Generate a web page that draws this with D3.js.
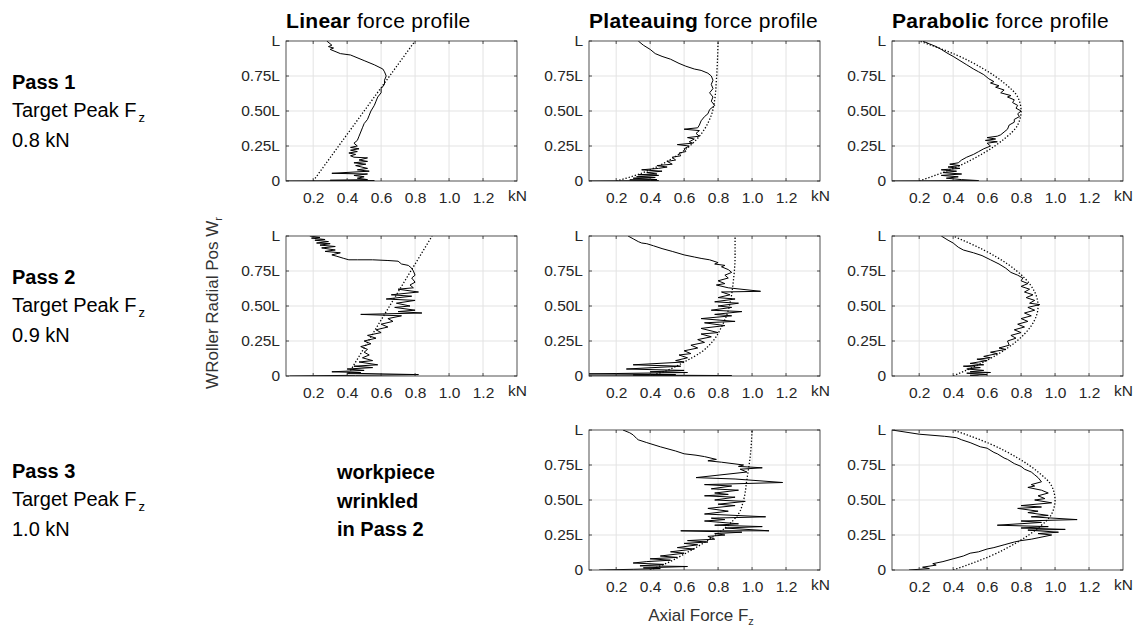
<!DOCTYPE html>
<html>
<head>
<meta charset="utf-8">
<script src="https://cdnjs.cloudflare.com/ajax/libs/d3/7.8.5/d3.min.js"></script>
<style>
  body { margin: 0; background: #fff; }
  svg { display: block; }
  text { font-family: "Liberation Sans", Arial, Helvetica, sans-serif; }
</style>
</head>
<body>
<svg width="1134" height="626"></svg>
<script>
// axis ticks
var xTicks = [0.2, 0.4, 0.6, 0.8, 1.0, 1.2];
var xUnit = [1.4, "kN"];
var yTicks = [0, 0.25, 0.5, 0.75, 1];
var yTickLabels = ["0", "0.25L", "0.50L", "0.75L", "L"];

var colTitles = [["Linear", " force profile"], ["Plateauing", " force profile"], ["Parabolic", " force profile"]];
var passNames = ["Pass 1", "Pass 2", "Pass 3"];
var passTargets = ["0.8 kN", "0.9 kN", "1.0 kN"];
var wrinkleNote = ["workpiece", "wrinkled", "in Pass 2"];

// target profiles [force kN, radial position / L]
var linTarget1 = [[0.2, 0], [0.8, 1]];
var platTarget1 = [[0.2, 0], [0.3, 0.035], [0.4, 0.08], [0.5, 0.14], [0.58, 0.2], [0.66, 0.28], [0.72, 0.37], [0.76, 0.47], [0.78, 0.58], [0.79, 0.72], [0.8, 1]];
var paraTarget1 = [[0.2, 0], [0.42, 0.1], [0.58, 0.2], [0.7, 0.3], [0.78, 0.4], [0.8, 0.5], [0.78, 0.6], [0.7, 0.7], [0.58, 0.8], [0.42, 0.9], [0.2, 1]];
var linTarget2 = [[0.4, 0], [0.9, 1]];
var platTarget2 = [[0.4, 0], [0.5, 0.04], [0.6, 0.1], [0.7, 0.17], [0.77, 0.25], [0.82, 0.35], [0.855, 0.45], [0.875, 0.55], [0.89, 0.68], [0.9, 0.85], [0.9, 1]];
var paraTarget2 = [[0.4, 0], [0.58, 0.1], [0.72, 0.2], [0.82, 0.3], [0.88, 0.4], [0.9, 0.5], [0.88, 0.6], [0.82, 0.7], [0.72, 0.8], [0.58, 0.9], [0.4, 1]];
var platTarget3 = [[0.4, 0], [0.5, 0.05], [0.61, 0.12], [0.75, 0.22], [0.85, 0.31], [0.92, 0.4], [0.95, 0.5], [0.97, 0.65], [0.99, 0.82], [1.0, 1]];
var paraTarget3 = [[0.4, 0], [0.62, 0.1], [0.78, 0.2], [0.9, 0.3], [0.98, 0.4], [1.0, 0.5], [0.98, 0.6], [0.9, 0.7], [0.78, 0.8], [0.62, 0.9], [0.4, 1]];

// measured forces [force kN, radial position / L]
var linMeas1 = [[0.28,1.0],[0.31,0.97],[0.29,0.96],[0.32,0.95],[0.3,0.94],[0.34,0.92],[0.36,0.91],[0.42,0.9],[0.44,0.89],[0.5,0.86],[0.56,0.83],[0.61,0.8],[0.62,0.78],[0.63,0.75],[0.62,0.72],[0.62,0.69],[0.6,0.66],[0.6,0.63],[0.58,0.6],[0.57,0.57],[0.56,0.54],[0.54,0.5],[0.53,0.47],[0.52,0.44],[0.5,0.41],[0.49,0.38],[0.48,0.35],[0.47,0.32],[0.46,0.29],[0.44,0.27],[0.46,0.25],[0.42,0.24],[0.47,0.23],[0.42,0.22],[0.46,0.21],[0.41,0.2],[0.45,0.19],[0.42,0.18],[0.44,0.17],[0.52,0.165],[0.47,0.15],[0.52,0.14],[0.44,0.13],[0.51,0.12],[0.45,0.11],[0.52,0.09],[0.46,0.08],[0.53,0.07],[0.31,0.055],[0.52,0.05],[0.44,0.04],[0.5,0.03],[0.46,0.02],[0.52,0.01],[0.3,0.005],[0.56,0.003],[0.04,0.0]];
var platMeas1 = [[0.33,1.0],[0.36,0.97],[0.4,0.94],[0.43,0.91],[0.47,0.89],[0.52,0.87],[0.57,0.84],[0.61,0.82],[0.66,0.8],[0.7,0.79],[0.74,0.77],[0.76,0.75],[0.77,0.72],[0.76,0.69],[0.77,0.66],[0.75,0.63],[0.77,0.6],[0.76,0.57],[0.78,0.54],[0.75,0.51],[0.74,0.48],[0.72,0.46],[0.7,0.43],[0.69,0.4],[0.68,0.38],[0.6,0.37],[0.69,0.36],[0.67,0.34],[0.69,0.32],[0.62,0.31],[0.66,0.3],[0.63,0.28],[0.65,0.27],[0.56,0.26],[0.63,0.25],[0.6,0.23],[0.61,0.21],[0.57,0.2],[0.58,0.18],[0.53,0.17],[0.55,0.15],[0.5,0.14],[0.53,0.12],[0.44,0.11],[0.5,0.1],[0.45,0.09],[0.35,0.08],[0.47,0.07],[0.38,0.06],[0.44,0.05],[0.33,0.045],[0.45,0.04],[0.32,0.03],[0.43,0.025],[0.3,0.02],[0.44,0.01],[0.28,0.008],[0.45,0.003],[0.04,0.0]];
var paraMeas1 = [[0.22,1.0],[0.26,0.98],[0.3,0.96],[0.33,0.94],[0.37,0.91],[0.4,0.89],[0.44,0.86],[0.48,0.83],[0.52,0.8],[0.55,0.78],[0.58,0.76],[0.61,0.73],[0.64,0.71],[0.62,0.7],[0.67,0.68],[0.65,0.67],[0.7,0.65],[0.68,0.63],[0.74,0.61],[0.72,0.6],[0.76,0.58],[0.75,0.56],[0.78,0.54],[0.77,0.52],[0.8,0.5],[0.78,0.48],[0.79,0.46],[0.76,0.44],[0.76,0.42],[0.73,0.4],[0.72,0.37],[0.7,0.35],[0.68,0.33],[0.66,0.32],[0.6,0.31],[0.65,0.3],[0.59,0.29],[0.66,0.28],[0.6,0.27],[0.62,0.25],[0.58,0.23],[0.55,0.21],[0.52,0.19],[0.48,0.17],[0.45,0.15],[0.43,0.13],[0.38,0.12],[0.44,0.11],[0.37,0.1],[0.44,0.09],[0.33,0.08],[0.42,0.07],[0.34,0.06],[0.45,0.05],[0.33,0.04],[0.43,0.03],[0.36,0.02],[0.45,0.01],[0.55,0.003],[0.04,0.0]];
var linMeas2 = [[0.18,1.0],[0.24,0.99],[0.19,0.985],[0.27,0.975],[0.21,0.97],[0.29,0.96],[0.22,0.95],[0.3,0.945],[0.24,0.935],[0.33,0.925],[0.25,0.915],[0.33,0.9],[0.27,0.89],[0.36,0.88],[0.31,0.865],[0.34,0.855],[0.38,0.84],[0.41,0.83],[0.46,0.83],[0.55,0.83],[0.64,0.825],[0.7,0.82],[0.72,0.8],[0.76,0.79],[0.78,0.77],[0.79,0.75],[0.8,0.72],[0.78,0.7],[0.8,0.67],[0.77,0.65],[0.79,0.63],[0.7,0.62],[0.82,0.6],[0.66,0.58],[0.78,0.57],[0.63,0.55],[0.8,0.54],[0.69,0.52],[0.77,0.5],[0.68,0.49],[0.8,0.47],[0.7,0.46],[0.84,0.45],[0.48,0.44],[0.72,0.43],[0.64,0.41],[0.67,0.39],[0.6,0.37],[0.64,0.35],[0.57,0.33],[0.6,0.31],[0.52,0.29],[0.57,0.27],[0.5,0.25],[0.54,0.23],[0.48,0.21],[0.52,0.19],[0.5,0.17],[0.53,0.15],[0.49,0.13],[0.55,0.11],[0.47,0.1],[0.58,0.08],[0.44,0.07],[0.55,0.06],[0.4,0.05],[0.5,0.04],[0.31,0.03],[0.48,0.025],[0.4,0.02],[0.82,0.01],[0.45,0.005],[0.06,0.0]];
var platMeas2 = [[0.27,1.0],[0.3,0.98],[0.33,0.96],[0.35,0.95],[0.38,0.945],[0.42,0.93],[0.47,0.91],[0.53,0.89],[0.6,0.865],[0.66,0.85],[0.7,0.84],[0.75,0.83],[0.8,0.81],[0.78,0.8],[0.84,0.79],[0.82,0.78],[0.86,0.76],[0.88,0.74],[0.84,0.72],[0.86,0.7],[0.8,0.68],[0.84,0.66],[0.79,0.65],[0.86,0.63],[1.05,0.605],[0.82,0.6],[0.87,0.58],[0.8,0.56],[0.9,0.55],[0.78,0.53],[0.92,0.52],[0.8,0.5],[0.88,0.49],[0.76,0.47],[0.94,0.46],[0.78,0.44],[0.88,0.43],[0.7,0.41],[0.9,0.39],[0.72,0.38],[0.84,0.36],[0.7,0.34],[0.8,0.31],[0.7,0.3],[0.76,0.28],[0.68,0.26],[0.72,0.24],[0.64,0.22],[0.68,0.2],[0.6,0.18],[0.64,0.16],[0.57,0.15],[0.62,0.13],[0.55,0.11],[0.6,0.1],[0.3,0.08],[0.58,0.07],[0.26,0.05],[0.6,0.04],[0.4,0.03],[0.62,0.025],[0.04,0.015],[0.55,0.01],[0.3,0.007],[0.88,0.003],[0.04,0.0]];
var paraMeas2 = [[0.33,1.0],[0.37,0.97],[0.4,0.95],[0.43,0.92],[0.46,0.9],[0.52,0.88],[0.57,0.86],[0.62,0.83],[0.67,0.8],[0.71,0.77],[0.74,0.74],[0.78,0.72],[0.81,0.7],[0.8,0.68],[0.84,0.66],[0.8,0.64],[0.85,0.62],[0.82,0.6],[0.87,0.58],[0.83,0.56],[0.88,0.54],[0.85,0.52],[0.91,0.51],[0.84,0.49],[0.88,0.47],[0.82,0.45],[0.86,0.43],[0.8,0.41],[0.84,0.39],[0.78,0.37],[0.82,0.35],[0.76,0.33],[0.8,0.31],[0.74,0.29],[0.77,0.27],[0.72,0.25],[0.73,0.22],[0.67,0.2],[0.71,0.19],[0.62,0.17],[0.66,0.16],[0.58,0.14],[0.62,0.13],[0.54,0.12],[0.6,0.11],[0.5,0.09],[0.58,0.08],[0.46,0.07],[0.56,0.06],[0.48,0.05],[0.58,0.04],[0.5,0.03],[0.62,0.025],[0.48,0.02],[0.6,0.01],[0.5,0.005],[0.55,0.0]];
var platMeas3 = [[0.24,1.0],[0.28,0.98],[0.3,0.965],[0.32,0.94],[0.33,0.93],[0.38,0.91],[0.46,0.88],[0.55,0.85],[0.6,0.83],[0.67,0.82],[0.72,0.81],[0.79,0.79],[0.74,0.78],[0.82,0.77],[0.95,0.75],[0.92,0.74],[1.06,0.73],[0.93,0.72],[0.97,0.7],[0.67,0.66],[0.9,0.65],[1.18,0.625],[0.72,0.61],[0.88,0.6],[0.76,0.58],[0.92,0.57],[0.78,0.55],[0.86,0.54],[0.72,0.53],[0.9,0.52],[0.78,0.5],[0.96,0.49],[0.8,0.47],[0.9,0.46],[0.74,0.44],[0.86,0.42],[0.72,0.4],[1.08,0.38],[0.76,0.37],[0.84,0.36],[0.72,0.35],[0.92,0.33],[0.78,0.32],[1.06,0.31],[0.84,0.3],[1.1,0.28],[0.58,0.28],[0.94,0.27],[0.78,0.26],[0.84,0.25],[0.74,0.24],[0.78,0.22],[0.62,0.21],[0.74,0.2],[0.6,0.19],[0.68,0.18],[0.56,0.16],[0.66,0.15],[0.52,0.13],[0.6,0.12],[0.46,0.1],[0.56,0.09],[0.4,0.08],[0.52,0.07],[0.38,0.06],[0.3,0.05],[0.48,0.04],[0.34,0.03],[0.62,0.025],[0.36,0.015],[0.46,0.01],[0.3,0.005],[0.1,0.0]];
var paraMeas3 = [[0.04,1.0],[0.2,0.97],[0.35,0.955],[0.42,0.945],[0.45,0.93],[0.5,0.91],[0.56,0.88],[0.6,0.87],[0.64,0.84],[0.66,0.83],[0.7,0.8],[0.72,0.79],[0.76,0.76],[0.8,0.74],[0.82,0.72],[0.86,0.7],[0.88,0.68],[0.9,0.66],[0.92,0.63],[0.86,0.61],[0.88,0.6],[0.84,0.59],[0.92,0.57],[0.96,0.55],[0.9,0.53],[0.94,0.51],[0.88,0.5],[0.98,0.48],[0.8,0.46],[0.92,0.45],[0.78,0.44],[0.9,0.42],[0.84,0.41],[0.96,0.39],[0.86,0.38],[1.13,0.36],[0.8,0.35],[0.92,0.34],[0.66,0.32],[0.96,0.31],[0.8,0.3],[1.06,0.29],[0.84,0.285],[1.02,0.27],[0.9,0.26],[0.98,0.25],[0.9,0.23],[0.86,0.22],[0.8,0.21],[0.76,0.2],[0.7,0.18],[0.64,0.16],[0.6,0.15],[0.55,0.13],[0.5,0.12],[0.46,0.1],[0.4,0.08],[0.34,0.06],[0.28,0.045],[0.3,0.035],[0.22,0.02],[0.26,0.01],[0.14,0.0]];

var panels = [
    { row: 0, col: 0, meas: linMeas1, target: linTarget1 },
    { row: 0, col: 1, meas: platMeas1, target: platTarget1 },
    { row: 0, col: 2, meas: paraMeas1, target: paraTarget1 },
    { row: 1, col: 0, meas: linMeas2, target: linTarget2 },
    { row: 1, col: 1, meas: platMeas2, target: platTarget2 },
    { row: 1, col: 2, meas: paraMeas2, target: paraTarget2 },
    { row: 2, col: 1, meas: platMeas3, target: platTarget3 },
    { row: 2, col: 2, meas: paraMeas3, target: paraTarget3 }
];

var svg = d3.select("svg");
var panelW = 231, panelH = 140;
var colX = [286, 589, 892];
var rowY = [41, 236, 430];
var axisGrey = "#262626";
var fontStack = "'Liberation Sans', Arial, Helvetica, sans-serif";

var x = d3.scaleLinear().domain([0.04, 1.4]).range([0, panelW]);
var y = d3.scaleLinear().domain([0, 1]).range([panelH, 0]);

var line = d3.line()
    .x(function(d) { return x(d[0]); })
    .y(function(d) { return y(d[1]); });

var smoothLine = d3.line()
    .x(function(d) { return x(d[0]); })
    .y(function(d) { return y(d[1]); })
    .curve(d3.curveMonotoneY);

svg.append("defs").append("clipPath")
    .attr("id", "plotClip")
    .append("rect")
    .attr("width", panelW)
    .attr("height", panelH);

// column titles
colTitles.forEach(function(t, i) {
    var tt = svg.append("text")
        .attr("x", colX[i])
        .attr("y", 28)
        .attr("font-size", 21)
        .style("letter-spacing", "0.3px")
        .attr("fill", "#000");
    tt.append("tspan").attr("font-weight", "bold").text(t[0]);
    tt.append("tspan").text(t[1]);
});

// pass labels at left
passNames.forEach(function(p, i) {
    var base = 89 + (rowY[i] - rowY[0]);
    svg.append("text")
        .attr("x", 12).attr("y", base)
        .attr("font-size", 20).attr("font-weight", "bold")
        .text(p);
    var tg = svg.append("text")
        .attr("x", 12).attr("y", base + 28)
        .attr("font-size", 20);
    tg.append("tspan").text("Target Peak F");
    tg.append("tspan").attr("dx", 2).attr("dy", 5).attr("font-size", 13).text("z");
    svg.append("text")
        .attr("x", 12).attr("y", base + 58)
        .attr("font-size", 20)
        .text(passTargets[i]);
});

svg.selectAll(".note")
    .data(wrinkleNote)
    .enter().append("text")
    .attr("class", "note")
    .attr("x", 337)
    .attr("y", function(d, i) { return 479 + i * 28.5; })
    .attr("font-size", 20)
    .attr("font-weight", "bold")
    .text(function(d) { return d; });

// panels
panels.forEach(function(p) {
    var g = svg.append("g")
        .attr("transform", "translate(" + colX[p.col] + "," + rowY[p.row] + ")");

    // grid
    g.selectAll(".vgrid").data(xTicks).enter().append("line")
        .attr("x1", function(d) { return x(d); }).attr("x2", function(d) { return x(d); })
        .attr("y1", 0).attr("y2", panelH)
        .attr("stroke", "#e3e3e3").attr("stroke-width", 1);
    g.selectAll(".hgrid").data(yTicks.slice(1, 4)).enter().append("line")
        .attr("y1", function(d) { return y(d); }).attr("y2", function(d) { return y(d); })
        .attr("x1", 0).attr("x2", panelW)
        .attr("stroke", "#e3e3e3").attr("stroke-width", 1);

    var plot = g.append("g").attr("clip-path", "url(#plotClip)");

    plot.append("path")
        .datum(p.target)
        .attr("d", smoothLine)
        .attr("fill", "none")
        .attr("stroke", "#000")
        .attr("stroke-width", 1.3)
        .attr("stroke-dasharray", "1.3,1.9");

    plot.append("path")
        .datum(p.meas)
        .attr("d", line)
        .attr("fill", "none")
        .attr("stroke", "#000")
        .attr("stroke-width", 1)
        .attr("stroke-linejoin", "round");

    // box
    g.append("rect")
        .attr("width", panelW).attr("height", panelH)
        .attr("fill", "none").attr("stroke", axisGrey).attr("stroke-width", 0.8);

    // inward ticks on all sides
    xTicks.forEach(function(t) {
        g.append("line").attr("x1", x(t)).attr("x2", x(t)).attr("y1", panelH).attr("y2", panelH - 3)
            .attr("stroke", axisGrey).attr("stroke-width", 0.8);
        g.append("line").attr("x1", x(t)).attr("x2", x(t)).attr("y1", 0).attr("y2", 3)
            .attr("stroke", axisGrey).attr("stroke-width", 0.8);
    });
    yTicks.forEach(function(t) {
        g.append("line").attr("y1", y(t)).attr("y2", y(t)).attr("x1", 0).attr("x2", 3)
            .attr("stroke", axisGrey).attr("stroke-width", 0.8);
        g.append("line").attr("y1", y(t)).attr("y2", y(t)).attr("x1", panelW).attr("x2", panelW - 3)
            .attr("stroke", axisGrey).attr("stroke-width", 0.8);
    });

    // tick labels via axes
    var xAxis = d3.axisBottom(x)
        .tickValues(xTicks.concat([xUnit[0]]))
        .tickSize(0)
        .tickPadding(11)
        .tickFormat(function(d) { return d === xUnit[0] ? xUnit[1] : d3.format(".1f")(d); });
    var xa = g.append("g").attr("transform", "translate(0," + panelH + ")").call(xAxis);
    xa.attr("font-size", 15.5).attr("font-family", fontStack);
    xa.select(".domain").remove();
    xa.selectAll("text")
        .attr("fill", axisGrey)
        .attr("dy", function(d) { return d === xUnit[0] ? "0.6em" : "0.71em"; });

    var yAxis = d3.axisLeft(y)
        .tickValues(yTicks)
        .tickSize(0)
        .tickPadding(6)
        .tickFormat(function(d, i) { return yTickLabels[i]; });
    var ya = g.append("g").call(yAxis);
    ya.attr("font-size", 15.5).attr("font-family", fontStack);
    ya.select(".domain").remove();
    ya.selectAll("text").attr("fill", axisGrey);
});

// shared axis titles
var yl = svg.append("text")
    .attr("transform", "translate(218,303) rotate(-90)")
    .attr("text-anchor", "middle")
    .attr("fill", "#333")
    .attr("font-size", 17);
yl.append("tspan").text("WRoller Radial Pos W");
yl.append("tspan").attr("dy", 4).attr("font-size", 11).text("r");

var xl = svg.append("text")
    .attr("x", 701)
    .attr("y", 621)
    .attr("text-anchor", "middle")
    .attr("fill", "#333")
    .attr("font-size", 17);
xl.append("tspan").text("Axial Force F");
xl.append("tspan").attr("dy", 4).attr("font-size", 11).text("z");
</script>
</body>
</html>
